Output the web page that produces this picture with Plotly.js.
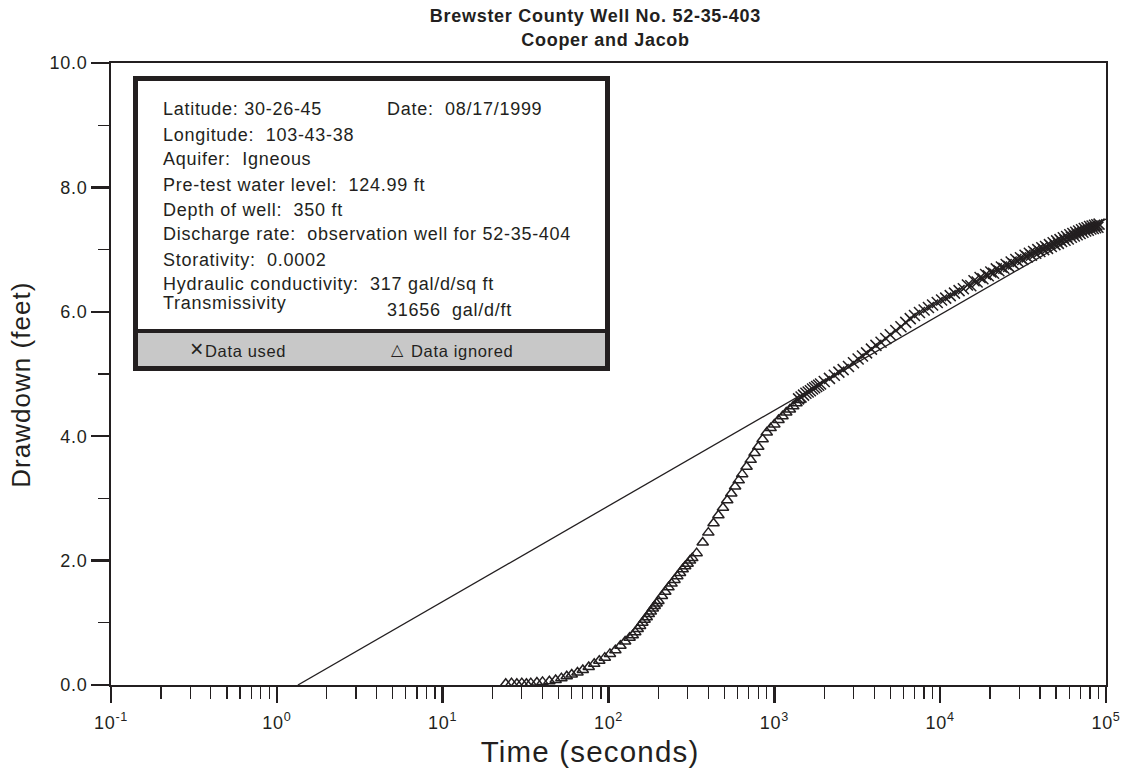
<!DOCTYPE html>
<html>
<head>
<meta charset="utf-8">
<script src="https://cdn.plot.ly/plotly-3.0.1.min.js"></script>
<style>
html, body { margin: 0; padding: 0; background: #ffffff; }
#chart { width: 1128px; height: 778px; }
.main-svg text { letter-spacing: 0.04em; }
</style>
</head>
<body>
<div id="chart"></div>
<script>
// ---------- data ----------
const titleLines = ['Brewster County Well No. 52-35-403', 'Cooper and Jacob'];
const xAxisTitle = 'Time (seconds)';
const yAxisTitle = 'Drawdown (feet)';

const xTickVals = [0.1, 1, 10, 100, 1000, 10000, 100000];
const xTickText = ['10<sup>-1</sup>', '10<sup>0</sup>', '10<sup>1</sup>', '10<sup>2</sup>',
                   '10<sup>3</sup>', '10<sup>4</sup>', '10<sup>5</sup>'];
const yTickVals = [0, 2, 4, 6, 8, 10];
const yTickText = ['0.0', '2.0', '4.0', '6.0', '8.0', '10.0'];

// Data ignored (triangles): time (s) and drawdown (ft)
const ignoredTime = [24, 26, 28, 30, 32, 34, 37, 40, 44, 48,
  52, 56, 60, 65, 70, 76, 82, 88, 95, 102,
  110, 118, 126, 134, 140, 145, 150, 155, 160, 165,
  170, 175, 180, 185, 190, 195, 200, 210, 220, 230,
  240, 250, 260, 270, 280, 290, 300, 310, 320, 340,
  370, 400, 430, 460, 490, 520, 550, 580, 610, 640,
  680, 720, 760, 800, 850, 900, 950, 1000, 1060, 1120,
  1180, 1240, 1300, 1360, 1420];
const ignoredDrawdown = [0.02, 0.03, 0.02, 0.03, 0.02, 0.03, 0.04, 0.05, 0.06, 0.08,
  0.11, 0.14, 0.17, 0.20, 0.24, 0.29, 0.34, 0.39, 0.44, 0.50,
  0.56, 0.63, 0.70, 0.76, 0.80, 0.85, 0.90, 0.95, 1.00, 1.05,
  1.09, 1.14, 1.18, 1.23, 1.27, 1.31, 1.35, 1.43, 1.50, 1.57,
  1.63, 1.69, 1.75, 1.80, 1.86, 1.91, 1.95, 2.00, 2.04, 2.12,
  2.29, 2.45, 2.60, 2.73, 2.85, 2.97, 3.08, 3.19, 3.29, 3.39,
  3.51, 3.62, 3.73, 3.83, 3.95, 4.06, 4.13, 4.19, 4.26, 4.32,
  4.38, 4.43, 4.48, 4.53, 4.58];

// Data used (crosses)
const usedTime = [1400, 1450, 1500, 1550, 1600, 1650, 1700, 1750, 1800, 1850, 1900,
  2000, 2150, 2300, 2450, 2600, 2800, 3000, 3200, 3400, 3600,
  3850, 4100, 4400, 4700, 5000, 5400, 5800, 6200, 6600, 7000,
  7500, 8000, 8500, 9000, 9600, 10200, 10800, 11500, 12200, 13000,
  13800,
  14600, 15300, 16000, 16700, 17400, 18100, 18800, 19500, 20200, 21000,
  21800, 22600, 23400, 24200, 25000, 25900, 26800, 27700, 28600, 29500,
  30500, 31500, 32500, 33500, 34500, 35500, 36600, 37700, 38800, 39900,
  41000, 42100, 43200, 44400, 45600, 46800, 48000, 49200, 50400, 51600,
  52800, 54000, 55300, 56600, 57900, 59200, 60500, 61800, 63100, 64400,
  65700, 67000, 68400, 69800, 71200, 72600, 74000, 75400, 76800, 78200,
  79600, 81000, 82400, 83800, 85200, 86600, 88000, 89400, 90800];
const usedDrawdown = [4.60, 4.63, 4.66, 4.69, 4.71, 4.73, 4.76, 4.78, 4.80, 4.82, 4.84,
  4.88, 4.93, 4.98, 5.03, 5.07, 5.12, 5.18, 5.24, 5.29, 5.34,
  5.40, 5.46, 5.51, 5.57, 5.63, 5.70, 5.76, 5.83, 5.89, 5.94,
  5.99, 6.03, 6.07, 6.11, 6.15, 6.19, 6.22, 6.26, 6.30, 6.34,
  6.37,
  6.43, 6.42, 6.50, 6.48, 6.55, 6.53, 6.60, 6.58, 6.64, 6.62,
  6.69, 6.66, 6.72, 6.70, 6.76, 6.73, 6.80, 6.77, 6.84, 6.81,
  6.87, 6.84, 6.91, 6.88, 6.94, 6.91, 6.97, 6.94, 7.00, 6.97,
  7.03, 7.00, 7.05, 7.02, 7.08, 7.05, 7.11, 7.08, 7.14, 7.10,
  7.16, 7.13, 7.19, 7.15, 7.21, 7.17, 7.24, 7.20, 7.26, 7.22,
  7.28, 7.24, 7.30, 7.26, 7.32, 7.28, 7.34, 7.30, 7.35, 7.31,
  7.37, 7.33, 7.38, 7.34, 7.39, 7.35, 7.40, 7.36, 7.41];

// Cooper-Jacob straight-line fit
const fitTime = [1.34, 100000];
const fitDrawdown = [0.0, 7.49];

// Info box text
const infoLeft = [
  'Latitude: 30-26-45',
  'Longitude:  103-43-38',
  'Aquifer:  Igneous',
  'Pre-test water level:  124.99 ft',
  'Depth of well:  350 ft',
  'Discharge rate:  observation well for 52-35-404',
  'Storativity:  0.0002',
  'Hydraulic conductivity:  317 gal/d/sq ft',
  'Transmissivity'
];
const infoDate = 'Date:  08/17/1999';
const infoTransValue = '31656  gal/d/ft';
const legendUsedSymbol = '\u00D7';
const legendUsedLabel = 'Data used';
const legendIgnoredSymbol = '\u25B3';
const legendIgnoredLabel = 'Data ignored';

// ---------- drawing ----------
const ink = '#231f20';
const FONT = '"Liberation Sans", Arial, Helvetica, sans-serif';

// layout geometry (pixels -> paper)
const plotL = 111, plotR = 1106, plotT = 63, plotB = 685;
const px = x => (x - plotL) / (plotR - plotL);
const py = y => (plotB - y) / (plotB - plotT);

const traces = [
  {
    x: fitTime, y: fitDrawdown, type: 'scatter', mode: 'lines',
    line: { color: ink, width: 1.3 }, showlegend: false, hoverinfo: 'skip'
  },
  {
    x: ignoredTime, y: ignoredDrawdown, type: 'scatter', mode: 'markers',
    name: 'Data ignored', cliponaxis: false,
    marker: { symbol: 'triangle-up-open', size: 10, color: ink, line: { color: ink, width: 1.5 } },
    showlegend: false
  },
  {
    x: usedTime, y: usedDrawdown, type: 'scatter', mode: 'markers',
    name: 'Data used', cliponaxis: false,
    marker: { symbol: 'x-thin-open', size: 11, color: ink, line: { color: ink, width: 1.5 } },
    showlegend: false
  }
];

const infoFont = { family: FONT, size: 18, color: ink };
const lineY = [109.5, 134.5, 159.5, 184.5, 209.5, 234.5, 259.5, 283.5, 303];
function ann(text, x, y, font, extra) {
  return Object.assign({ text: text, xref: 'paper', yref: 'paper', x: px(x), y: py(y),
    xanchor: 'left', yanchor: 'middle', align: 'left', showarrow: false, font: font }, extra || {});
}
const annotations = infoLeft.map((t, i) => ann(t, 161, lineY[i], infoFont));
annotations.push(ann(infoDate, 385, 109.5, infoFont));
annotations.push(ann(infoTransValue, 385, 309.5, infoFont));
const legFont = { family: FONT, size: 16.5, color: ink };
annotations.push(ann(legendUsedSymbol, 187.5, 349, { family: FONT, size: 23, color: ink }));
annotations.push(ann(legendUsedLabel, 203, 350.5, legFont));
annotations.push(ann(legendIgnoredSymbol, 388.5, 349.5, { family: '"DejaVu Sans", sans-serif', size: 16, color: ink }));
annotations.push(ann(legendIgnoredLabel, 409, 350.5, legFont));
// chart title (two centred lines)
const titleFont = { family: FONT, size: 18, weight: 'bold', color: ink };
annotations.push(ann(titleLines[0], 595, 16.5, titleFont, { xanchor: 'center', align: 'center' }));
annotations.push(ann(titleLines[1], 605, 39.5, titleFont, { xanchor: 'center', align: 'center' }));
// axis titles
annotations.push(ann(xAxisTitle, 590, 751, { family: FONT, size: 29.5, color: ink }, { xanchor: 'center', align: 'center' }));
annotations.push(ann(yAxisTitle, 21, 385, { family: FONT, size: 26, color: ink }, { xanchor: 'center', align: 'center', textangle: -90 }));

const shapes = [
  { type: 'rect', xref: 'paper', yref: 'paper', x0: px(135.5), x1: px(607.5), y0: py(331), y1: py(78.5),
    fillcolor: '#ffffff', line: { width: 0 }, layer: 'below' },
  { type: 'rect', xref: 'paper', yref: 'paper', x0: px(135.5), x1: px(607.5), y0: py(368.5), y1: py(331),
    fillcolor: '#c8c8c8', line: { width: 0 }, layer: 'above' },
  { type: 'rect', xref: 'paper', yref: 'paper', x0: px(135.5), x1: px(607.5), y0: py(368.5), y1: py(78.5),
    fillcolor: 'rgba(0,0,0,0)', line: { color: ink, width: 5 }, layer: 'above' },
  { type: 'line', xref: 'paper', yref: 'paper', x0: px(135.5), x1: px(607.5), y0: py(331), y1: py(331),
    line: { color: ink, width: 4 }, layer: 'above' }
];

const layout = {
  width: 1128, height: 778,
  margin: { l: plotL, r: 1128 - plotR, t: plotT, b: 778 - plotB, pad: 0 },
  paper_bgcolor: '#ffffff', plot_bgcolor: '#ffffff',
  font: { family: FONT, color: ink, size: 18 },
  showlegend: false,
  xaxis: {
    type: 'log', range: [-1, 5], tickmode: 'array', tickvals: xTickVals, ticktext: xTickText,
    showgrid: false, zeroline: false,
    showline: true, linecolor: ink, linewidth: 2, mirror: true,
    ticks: 'outside', ticklen: 16, tickwidth: 2.5, tickcolor: ink,
    ticklabelstandoff: 4,
    tickfont: { family: FONT, size: 18, color: ink },
    minor: { dtick: 'D1', ticks: 'outside', ticklen: 12, tickwidth: 1.2, tickcolor: ink, showgrid: false }
  },
  yaxis: {
    range: [0, 10], tickmode: 'array', tickvals: yTickVals, ticktext: yTickText,
    showgrid: false, zeroline: false,
    showline: true, linecolor: ink, linewidth: 2, mirror: true,
    ticks: 'outside', ticklen: 18, tickwidth: 2.5, tickcolor: ink,
    tickfont: { family: FONT, size: 18, color: ink },
    minor: { dtick: 1, ticks: 'outside', ticklen: 11, tickwidth: 1.3, tickcolor: ink, showgrid: false }
  },
  shapes: shapes,
  annotations: annotations
};

Plotly.newPlot('chart', traces, layout, { displayModeBar: false, staticPlot: true });
</script>
</body>
</html>
